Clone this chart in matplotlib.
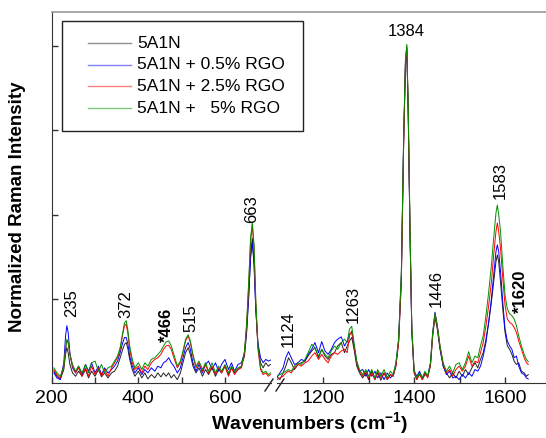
import numpy as np
import matplotlib
matplotlib.use("Agg")
import matplotlib.pyplot as plt
from matplotlib.lines import Line2D
from matplotlib.patches import Rectangle

plt.rcParams['font.family'] = ['Liberation Sans', 'DejaVu Sans']
plt.rcParams['mathtext.fontset'] = 'custom'
plt.rcParams['mathtext.rm'] = 'Liberation Sans'
plt.rcParams['mathtext.bf'] = 'Liberation Sans:bold'

W, H = 546, 438

# ---- data (normalized intensity) ----
series_names = ['5A1N', '5A1N + 0.5% RGO', '5A1N + 2.5% RGO', '5A1N +   5% RGO']
series_colors = ['#222222', '#0000ff', '#ff0000', '#009000']

# low wavenumber segment
wn_low = [205, 212, 220, 228, 232, 235, 238, 242, 248, 255,
          262, 270, 278, 285, 292, 300, 308, 315, 322, 330,
          338, 345, 352, 358, 364, 368, 372, 376, 380, 386,
          392, 400, 408, 415, 422, 430, 438, 445, 452, 458,
          464, 470, 476, 482, 490, 497, 503, 509, 515, 520,
          526, 533, 540, 548, 555, 562, 570, 578, 585, 592,
          600, 608, 615, 622, 630, 638, 645, 650, 655, 659,
          663, 667, 671, 676, 682, 688, 694, 700, 705]

k_low = [0.035, 0.02, 0.012, 0.04, 0.085, 0.105, 0.09, 0.055, 0.03, 0.02,
         0.035, 0.02, 0.04, 0.015, 0.035, 0.02, 0.04, 0.018, 0.03, 0.015,
         0.03, 0.035, 0.05, 0.075, 0.1, 0.115, 0.12, 0.1, 0.07, 0.04,
         0.02, 0.035, 0.015, 0.03, 0.012, 0.025, 0.015, 0.03, 0.018, 0.03,
         0.02, 0.03, 0.015, 0.025, 0.01, 0.03, 0.06, 0.09, 0.105, 0.085,
         0.05, 0.03, 0.045, 0.02, 0.04, 0.025, 0.045, 0.02, 0.04, 0.03,
         0.05, 0.025, 0.045, 0.03, 0.04, 0.05, 0.08, 0.15, 0.26, 0.38,
         0.43, 0.36, 0.22, 0.11, 0.06, 0.045, 0.06, 0.05, 0.055]

b_low = [0.03, 0.015, 0.01, 0.06, 0.14, 0.17, 0.15, 0.09, 0.045, 0.03,
         0.05, 0.025, 0.055, 0.035, 0.06, 0.03, 0.05, 0.025, 0.045, 0.03,
         0.04, 0.05, 0.065, 0.09, 0.12, 0.135, 0.135, 0.115, 0.08, 0.05,
         0.03, 0.045, 0.025, 0.04, 0.03, 0.045, 0.035, 0.05, 0.045, 0.06,
         0.065, 0.075, 0.06, 0.05, 0.03, 0.045, 0.075, 0.105, 0.12, 0.1,
         0.06, 0.035, 0.055, 0.03, 0.055, 0.065, 0.04, 0.06, 0.035, 0.055,
         0.07, 0.04, 0.06, 0.035, 0.055, 0.06, 0.09, 0.16, 0.27, 0.37,
         0.415, 0.35, 0.22, 0.12, 0.075, 0.06, 0.07, 0.065, 0.068]

r_low = [0.04, 0.025, 0.015, 0.05, 0.1, 0.125, 0.12, 0.085, 0.05, 0.03,
         0.045, 0.02, 0.045, 0.02, 0.05, 0.025, 0.045, 0.02, 0.04, 0.02,
         0.045, 0.06, 0.075, 0.1, 0.145, 0.17, 0.175, 0.145, 0.1, 0.06,
         0.04, 0.05, 0.03, 0.05, 0.04, 0.06, 0.07, 0.075, 0.085, 0.1,
         0.11, 0.112, 0.1, 0.075, 0.045, 0.06, 0.09, 0.125, 0.14, 0.12,
         0.08, 0.045, 0.06, 0.035, 0.055, 0.03, 0.05, 0.025, 0.045, 0.03,
         0.05, 0.02, 0.045, 0.025, 0.04, 0.045, 0.09, 0.17, 0.3, 0.42,
         0.47, 0.4, 0.24, 0.1, 0.04, 0.025, 0.03, 0.02, 0.025]

g_low = [0.045, 0.03, 0.02, 0.05, 0.1, 0.13, 0.12, 0.085, 0.055, 0.035,
         0.05, 0.03, 0.055, 0.03, 0.06, 0.065, 0.035, 0.055, 0.03, 0.045,
         0.05, 0.065, 0.08, 0.105, 0.15, 0.178, 0.185, 0.155, 0.11, 0.07,
         0.045, 0.06, 0.04, 0.06, 0.05, 0.07, 0.075, 0.085, 0.095, 0.11,
         0.122, 0.125, 0.11, 0.085, 0.05, 0.065, 0.095, 0.13, 0.143, 0.125,
         0.085, 0.05, 0.065, 0.04, 0.06, 0.035, 0.06, 0.03, 0.05, 0.035,
         0.055, 0.03, 0.05, 0.035, 0.045, 0.05, 0.095, 0.18, 0.31, 0.43,
         0.475, 0.41, 0.25, 0.11, 0.045, 0.03, 0.035, 0.025, 0.03]

# high wavenumber segment
wn_high = [1098, 1105, 1112, 1118, 1124, 1130, 1137, 1145, 1152, 1160,
           1167, 1175, 1182, 1190, 1197, 1204, 1211, 1218, 1225, 1232,
           1240, 1247, 1253, 1258, 1263, 1268, 1274, 1280, 1287, 1294,
           1300, 1307, 1314, 1320, 1327, 1334, 1341, 1348, 1354, 1360,
           1366, 1372, 1377, 1381, 1384, 1387, 1391, 1395, 1400, 1406,
           1412, 1418, 1424, 1430, 1436, 1441, 1446, 1451, 1457, 1464,
           1471, 1478, 1485, 1492, 1499, 1506, 1513, 1520, 1527, 1534,
           1540, 1546, 1552, 1558, 1564, 1570, 1575, 1580, 1583, 1586,
           1590, 1595, 1600, 1605, 1610, 1615, 1620, 1625, 1630, 1636,
           1642, 1647, 1651]

k_high = [0.02, 0.01, 0.03, 0.05, 0.075, 0.06, 0.04, 0.055, 0.06, 0.065,
          0.08, 0.095, 0.105, 0.075, 0.1, 0.08, 0.07, 0.085, 0.09, 0.11,
          0.12, 0.09, 0.11, 0.125, 0.135, 0.1, 0.05, 0.03, 0.015, 0.03,
          0.01, 0.035, 0.01, 0.03, 0.008, 0.03, 0.01, 0.025, 0.02, 0.05,
          0.12, 0.3, 0.7, 0.94, 0.99, 0.8, 0.44, 0.15, 0.03, 0.01,
          0.03, 0.01, 0.025, 0.02, 0.05, 0.14, 0.195, 0.16, 0.1, 0.05,
          0.03, 0.015, 0.03, 0.015, 0.035, 0.02, 0.04, 0.025, 0.045, 0.06,
          0.045, 0.07, 0.09, 0.13, 0.18, 0.24, 0.3, 0.36, 0.38, 0.36,
          0.3, 0.22, 0.15, 0.11, 0.1, 0.085, 0.065, 0.055, 0.06, 0.035,
          0.03, 0.02, 0.025]

b_high = [0.015, 0.03, 0.045, 0.075, 0.093, 0.075, 0.055, 0.06, 0.07, 0.065,
          0.085, 0.1, 0.12, 0.09, 0.123, 0.095, 0.085, 0.1, 0.12, 0.13,
          0.137, 0.11, 0.125, 0.145, 0.15, 0.11, 0.06, 0.035, 0.04, 0.02,
          0.04, 0.02, 0.035, 0.015, 0.03, 0.01, 0.03, 0.015, 0.025, 0.055,
          0.13, 0.32, 0.72, 0.95, 0.995, 0.82, 0.45, 0.16, 0.035, 0.02,
          0.035, 0.015, 0.03, 0.02, 0.06, 0.15, 0.21, 0.17, 0.105, 0.05,
          0.025, 0.035, 0.015, 0.02, 0.01, 0.025, 0.015, 0.03, 0.02, 0.04,
          0.035, 0.05, 0.08, 0.12, 0.18, 0.25, 0.32, 0.39, 0.41, 0.39,
          0.33, 0.24, 0.16, 0.125, 0.11, 0.1, 0.075, 0.08, 0.05, 0.03,
          0.025, 0.015, 0.012]

r_high = [0.01, 0.015, 0.02, 0.03, 0.035, 0.03, 0.045, 0.055, 0.05, 0.06,
          0.065, 0.08, 0.09, 0.07, 0.085, 0.07, 0.06, 0.08, 0.09, 0.085,
          0.095, 0.1, 0.09, 0.14, 0.155, 0.11, 0.06, 0.035, 0.02, 0.035,
          0.015, 0.03, 0.01, 0.035, 0.015, 0.03, 0.01, 0.025, 0.02, 0.05,
          0.12, 0.31, 0.71, 0.95, 1.0, 0.82, 0.46, 0.16, 0.035, 0.01,
          0.025, 0.01, 0.03, 0.015, 0.055, 0.145, 0.205, 0.17, 0.11, 0.055,
          0.03, 0.04, 0.02, 0.04, 0.05, 0.035, 0.05, 0.08, 0.05, 0.065,
          0.06, 0.09, 0.12, 0.17, 0.23, 0.3, 0.38, 0.45, 0.475, 0.45,
          0.4, 0.31, 0.23, 0.19, 0.18, 0.175, 0.165, 0.15, 0.125, 0.1,
          0.075, 0.06, 0.055]

g_high = [0.02, 0.025, 0.03, 0.035, 0.04, 0.035, 0.05, 0.06, 0.055, 0.07,
          0.09, 0.115, 0.105, 0.08, 0.1, 0.085, 0.075, 0.095, 0.11, 0.1,
          0.12, 0.13, 0.12, 0.16, 0.168, 0.12, 0.065, 0.04, 0.025, 0.04,
          0.02, 0.04, 0.015, 0.04, 0.02, 0.04, 0.015, 0.035, 0.025, 0.06,
          0.13, 0.33, 0.73, 0.96, 1.005, 0.83, 0.47, 0.17, 0.04, 0.015,
          0.03, 0.015, 0.035, 0.02, 0.06, 0.15, 0.207, 0.17, 0.11, 0.06,
          0.035, 0.05, 0.03, 0.055, 0.06, 0.04, 0.06, 0.093, 0.06, 0.08,
          0.075, 0.11, 0.14, 0.2, 0.27, 0.35, 0.43, 0.505, 0.528, 0.5,
          0.45, 0.35, 0.26, 0.22, 0.205, 0.2, 0.19, 0.17, 0.14, 0.11,
          0.085, 0.07, 0.063]

low_series = [k_low, b_low, r_low, g_low]
high_series = [k_high, b_high, r_high, g_high]

# peak labels
low_peaks = ['235', '372', '*466', '515', '663']
low_peak_x = [246, 371, 464, 521, 662]
low_peak_y = [0.197, 0.193, 0.123, 0.152, 0.475]
high_peaks = ['1124', '1263', '1446', '1583', '*1620']
high_peak_x = [1123, 1267, 1448, 1590, 1633]
high_peak_y = [0.108, 0.177, 0.226, 0.545, 0.207]

low_ticks = [200, 300, 400, 500, 600]
low_ticklabels = ['200', '', '400', '', '600']
high_ticks = [1200, 1300, 1400, 1500, 1600]
high_ticklabels = ['1200', '', '1400', '', '1600']


def fx(px):
    return px / W


def fy(py):
    return 1 - py / H


fig = plt.figure(figsize=(W / 100, H / 100), dpi=100)
bottom = fy(383)
height = (383 - 12) / H
ax1 = fig.add_axes([fx(51.7), bottom, fx(270.5) - fx(51.7), height])
ax2 = fig.add_axes([fx(276.7), bottom, 1 - fx(276.7), height])

for ys, c in zip(low_series, series_colors):
    ax1.plot(wn_low, ys, color=c, lw=0.7)
for ys, c in zip(high_series, series_colors):
    ax2.plot(wn_high, ys, color=c, lw=0.7)

ax1.set_xlim(200, 705)
ax2.set_xlim(1098, 1690)
for ax in (ax1, ax2):
    ax.set_ylim(0, 1.101)
    ax.spines['top'].set_visible(False)
    ax.spines['right'].set_visible(False)
    ax.spines['bottom'].set_color('#333333')
    ax.tick_params(axis='x', direction='in', length=4.5, width=1,
                   color='#333333', labelsize=14, pad=5)
ax2.spines['left'].set_visible(False)
ax2.set_yticks([])
ax1.spines['left'].set_color('#333333')
ax1.set_yticks([0.25, 0.5, 0.75, 1.0])
ax1.set_yticklabels([])
ax1.tick_params(axis='y', direction='in', length=4.5, width=1, color='#333333')

ax1.set_xticks(low_ticks)
ax1.set_xticklabels(low_ticklabels)
ax2.set_xticks(high_ticks)
ax2.set_xticklabels(high_ticklabels)

for t, x, y in zip(low_peaks, low_peak_x, low_peak_y):
    ax1.text(x, y, t, rotation=90, ha='center', va='bottom', fontsize=12,
             fontweight='bold' if t.startswith('*') else 'normal')
for t, x, y in zip(high_peaks, high_peak_x, high_peak_y):
    ax2.text(x, y, t, rotation=90, ha='center', va='bottom', fontsize=12,
             fontweight='bold' if t.startswith('*') else 'normal')
ax2.text(1383, 1.02, '1384', ha='center', va='bottom', fontsize=12)

# top frame line and axis break marks
fig.add_artist(Line2D([fx(51.7), 1], [fy(12), fy(12)], color='#999999', lw=1.2))
for x0 in (265, 276):
    fig.add_artist(Line2D([fx(x0), fx(x0 + 8)], [fy(391), fy(379)], color='#222222', lw=1))

# legend box
fig.add_artist(Rectangle((fx(62), fy(131)), fx(303) - fx(62), fy(21) - fy(131),
                         fill=False, edgecolor='#222222', lw=1))
for i, (name, c) in enumerate(zip(series_names, series_colors)):
    yy = fy(43 + i * 21.7)
    fig.add_artist(Line2D([fx(88), fx(131)], [yy, yy], color=c, lw=1.0, alpha=0.5))
    fig.text(fx(137), yy, name, fontsize=12.5, va='center', ha='left')

fig.text(fx(310), fy(424), r'Wavenumbers (cm$^{\mathbf{-1}}$)', fontsize=14,
         fontweight='bold', ha='center', va='center')
fig.text(fx(18), fy(207), 'Normalized Raman Intensity', fontsize=13.5,
         fontweight='bold', rotation=90, ha='center', va='center')

fig.savefig('out.png', dpi=100)
